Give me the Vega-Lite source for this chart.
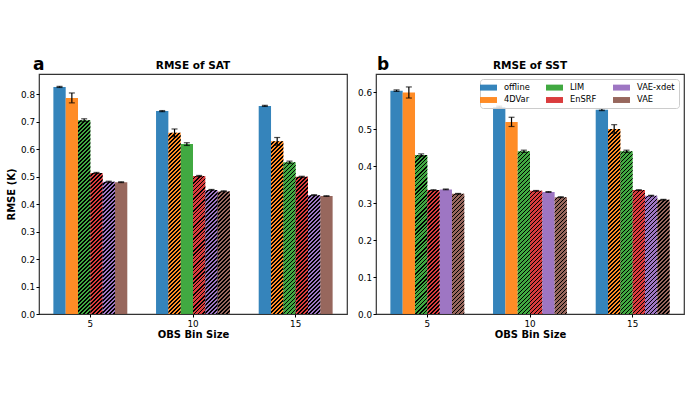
{
  "$schema": "https://vega.github.io/schema/vega-lite/v6.json",
  "padding": {"left": 5, "top": 55, "right": 5, "bottom": 5},
  "config": {
    "font": "DejaVu Sans",
    "view": {"stroke": "#333", "strokeWidth": 1.2},
    "axis": {"labelFontSize": 8.8, "labelColor": "#000", "tickColor": "#000", "tickSize": 3, "tickWidth": 1, "titleFontSize": 10, "titleFontWeight": "bold", "titleColor": "#000", "grid": false, "domain": false},
    "axisX": {"labelAngle": 0, "labelPadding": 2, "titlePadding": 2},
    "axisY": {"labelPadding": 1.5, "titlePadding": 4},
    "title": {"color": "#000", "fontWeight": "bold"}
  },
  "params": [
    {"name": "hs", "value": [
      {"offset":0,"color":"transparent"},{"offset":0.01,"color":"transparent"},{"offset":0.01,"color":"#000"},{"offset":0.0161,"color":"#000"},
      {"offset":0.0161,"color":"transparent"},{"offset":0.0261,"color":"transparent"},{"offset":0.0261,"color":"#000"},{"offset":0.0323,"color":"#000"},
      {"offset":0.0323,"color":"transparent"},{"offset":0.0423,"color":"transparent"},{"offset":0.0423,"color":"#000"},{"offset":0.0484,"color":"#000"},
      {"offset":0.0484,"color":"transparent"},{"offset":0.0584,"color":"transparent"},{"offset":0.0584,"color":"#000"},{"offset":0.0645,"color":"#000"},
      {"offset":0.0645,"color":"transparent"},{"offset":0.0745,"color":"transparent"},{"offset":0.0745,"color":"#000"},{"offset":0.0806,"color":"#000"},
      {"offset":0.0806,"color":"transparent"},{"offset":0.0906,"color":"transparent"},{"offset":0.0906,"color":"#000"},{"offset":0.0968,"color":"#000"},
      {"offset":0.0968,"color":"transparent"},{"offset":0.1068,"color":"transparent"},{"offset":0.1068,"color":"#000"},{"offset":0.1129,"color":"#000"},
      {"offset":0.1129,"color":"transparent"},{"offset":0.1229,"color":"transparent"},{"offset":0.1229,"color":"#000"},{"offset":0.129,"color":"#000"},
      {"offset":0.129,"color":"transparent"},{"offset":0.139,"color":"transparent"},{"offset":0.139,"color":"#000"},{"offset":0.1452,"color":"#000"},
      {"offset":0.1452,"color":"transparent"},{"offset":0.1552,"color":"transparent"},{"offset":0.1552,"color":"#000"},{"offset":0.1613,"color":"#000"},
      {"offset":0.1613,"color":"transparent"},{"offset":0.1713,"color":"transparent"},{"offset":0.1713,"color":"#000"},{"offset":0.1774,"color":"#000"},
      {"offset":0.1774,"color":"transparent"},{"offset":0.1874,"color":"transparent"},{"offset":0.1874,"color":"#000"},{"offset":0.1935,"color":"#000"},
      {"offset":0.1935,"color":"transparent"},{"offset":0.2035,"color":"transparent"},{"offset":0.2035,"color":"#000"},{"offset":0.2097,"color":"#000"},
      {"offset":0.2097,"color":"transparent"},{"offset":0.2197,"color":"transparent"},{"offset":0.2197,"color":"#000"},{"offset":0.2258,"color":"#000"},
      {"offset":0.2258,"color":"transparent"},{"offset":0.2358,"color":"transparent"},{"offset":0.2358,"color":"#000"},{"offset":0.2419,"color":"#000"},
      {"offset":0.2419,"color":"transparent"},{"offset":0.2519,"color":"transparent"},{"offset":0.2519,"color":"#000"},{"offset":0.2581,"color":"#000"},
      {"offset":0.2581,"color":"transparent"},{"offset":0.2681,"color":"transparent"},{"offset":0.2681,"color":"#000"},{"offset":0.2742,"color":"#000"},
      {"offset":0.2742,"color":"transparent"},{"offset":0.2842,"color":"transparent"},{"offset":0.2842,"color":"#000"},{"offset":0.2903,"color":"#000"},
      {"offset":0.2903,"color":"transparent"},{"offset":0.3003,"color":"transparent"},{"offset":0.3003,"color":"#000"},{"offset":0.3065,"color":"#000"},
      {"offset":0.3065,"color":"transparent"},{"offset":0.3165,"color":"transparent"},{"offset":0.3165,"color":"#000"},{"offset":0.3226,"color":"#000"},
      {"offset":0.3226,"color":"transparent"},{"offset":0.3326,"color":"transparent"},{"offset":0.3326,"color":"#000"},{"offset":0.3387,"color":"#000"},
      {"offset":0.3387,"color":"transparent"},{"offset":0.3487,"color":"transparent"},{"offset":0.3487,"color":"#000"},{"offset":0.3548,"color":"#000"},
      {"offset":0.3548,"color":"transparent"},{"offset":0.3648,"color":"transparent"},{"offset":0.3648,"color":"#000"},{"offset":0.371,"color":"#000"},
      {"offset":0.371,"color":"transparent"},{"offset":0.381,"color":"transparent"},{"offset":0.381,"color":"#000"},{"offset":0.3871,"color":"#000"},
      {"offset":0.3871,"color":"transparent"},{"offset":0.3971,"color":"transparent"},{"offset":0.3971,"color":"#000"},{"offset":0.4032,"color":"#000"},
      {"offset":0.4032,"color":"transparent"},{"offset":0.4132,"color":"transparent"},{"offset":0.4132,"color":"#000"},{"offset":0.4194,"color":"#000"},
      {"offset":0.4194,"color":"transparent"},{"offset":0.4294,"color":"transparent"},{"offset":0.4294,"color":"#000"},{"offset":0.4355,"color":"#000"},
      {"offset":0.4355,"color":"transparent"},{"offset":0.4455,"color":"transparent"},{"offset":0.4455,"color":"#000"},{"offset":0.4516,"color":"#000"},
      {"offset":0.4516,"color":"transparent"},{"offset":0.4616,"color":"transparent"},{"offset":0.4616,"color":"#000"},{"offset":0.4677,"color":"#000"},
      {"offset":0.4677,"color":"transparent"},{"offset":0.4777,"color":"transparent"},{"offset":0.4777,"color":"#000"},{"offset":0.4839,"color":"#000"},
      {"offset":0.4839,"color":"transparent"},{"offset":0.4939,"color":"transparent"},{"offset":0.4939,"color":"#000"},{"offset":0.5,"color":"#000"},
      {"offset":0.5,"color":"transparent"},{"offset":0.51,"color":"transparent"},{"offset":0.51,"color":"#000"},{"offset":0.5161,"color":"#000"},
      {"offset":0.5161,"color":"transparent"},{"offset":0.5261,"color":"transparent"},{"offset":0.5261,"color":"#000"},{"offset":0.5323,"color":"#000"},
      {"offset":0.5323,"color":"transparent"},{"offset":0.5423,"color":"transparent"},{"offset":0.5423,"color":"#000"},{"offset":0.5484,"color":"#000"},
      {"offset":0.5484,"color":"transparent"},{"offset":0.5584,"color":"transparent"},{"offset":0.5584,"color":"#000"},{"offset":0.5645,"color":"#000"},
      {"offset":0.5645,"color":"transparent"},{"offset":0.5745,"color":"transparent"},{"offset":0.5745,"color":"#000"},{"offset":0.5806,"color":"#000"},
      {"offset":0.5806,"color":"transparent"},{"offset":0.5906,"color":"transparent"},{"offset":0.5906,"color":"#000"},{"offset":0.5968,"color":"#000"},
      {"offset":0.5968,"color":"transparent"},{"offset":0.6068,"color":"transparent"},{"offset":0.6068,"color":"#000"},{"offset":0.6129,"color":"#000"},
      {"offset":0.6129,"color":"transparent"},{"offset":0.6229,"color":"transparent"},{"offset":0.6229,"color":"#000"},{"offset":0.629,"color":"#000"},
      {"offset":0.629,"color":"transparent"},{"offset":0.639,"color":"transparent"},{"offset":0.639,"color":"#000"},{"offset":0.6452,"color":"#000"},
      {"offset":0.6452,"color":"transparent"},{"offset":0.6552,"color":"transparent"},{"offset":0.6552,"color":"#000"},{"offset":0.6613,"color":"#000"},
      {"offset":0.6613,"color":"transparent"},{"offset":0.6713,"color":"transparent"},{"offset":0.6713,"color":"#000"},{"offset":0.6774,"color":"#000"},
      {"offset":0.6774,"color":"transparent"},{"offset":0.6874,"color":"transparent"},{"offset":0.6874,"color":"#000"},{"offset":0.6935,"color":"#000"},
      {"offset":0.6935,"color":"transparent"},{"offset":0.7035,"color":"transparent"},{"offset":0.7035,"color":"#000"},{"offset":0.7097,"color":"#000"},
      {"offset":0.7097,"color":"transparent"},{"offset":0.7197,"color":"transparent"},{"offset":0.7197,"color":"#000"},{"offset":0.7258,"color":"#000"},
      {"offset":0.7258,"color":"transparent"},{"offset":0.7358,"color":"transparent"},{"offset":0.7358,"color":"#000"},{"offset":0.7419,"color":"#000"},
      {"offset":0.7419,"color":"transparent"},{"offset":0.7519,"color":"transparent"},{"offset":0.7519,"color":"#000"},{"offset":0.7581,"color":"#000"},
      {"offset":0.7581,"color":"transparent"},{"offset":0.7681,"color":"transparent"},{"offset":0.7681,"color":"#000"},{"offset":0.7742,"color":"#000"},
      {"offset":0.7742,"color":"transparent"},{"offset":0.7842,"color":"transparent"},{"offset":0.7842,"color":"#000"},{"offset":0.7903,"color":"#000"},
      {"offset":0.7903,"color":"transparent"},{"offset":0.8003,"color":"transparent"},{"offset":0.8003,"color":"#000"},{"offset":0.8065,"color":"#000"},
      {"offset":0.8065,"color":"transparent"},{"offset":0.8165,"color":"transparent"},{"offset":0.8165,"color":"#000"},{"offset":0.8226,"color":"#000"},
      {"offset":0.8226,"color":"transparent"},{"offset":0.8326,"color":"transparent"},{"offset":0.8326,"color":"#000"},{"offset":0.8387,"color":"#000"},
      {"offset":0.8387,"color":"transparent"},{"offset":0.8487,"color":"transparent"},{"offset":0.8487,"color":"#000"},{"offset":0.8548,"color":"#000"},
      {"offset":0.8548,"color":"transparent"},{"offset":0.8648,"color":"transparent"},{"offset":0.8648,"color":"#000"},{"offset":0.871,"color":"#000"},
      {"offset":0.871,"color":"transparent"},{"offset":0.881,"color":"transparent"},{"offset":0.881,"color":"#000"},{"offset":0.8871,"color":"#000"},
      {"offset":0.8871,"color":"transparent"},{"offset":0.8971,"color":"transparent"},{"offset":0.8971,"color":"#000"},{"offset":0.9032,"color":"#000"},
      {"offset":0.9032,"color":"transparent"},{"offset":1,"color":"transparent"}
    ]}
  ],
  "datasets": {
    "sat": [
      {"bin": 5, "method": "offline", "rmse": 0.826, "lo": 0.824, "hi": 0.828, "hatch": false},
      {"bin": 5, "method": "4DVar", "rmse": 0.786, "lo": 0.768, "hi": 0.804, "hatch": false},
      {"bin": 5, "method": "LIM", "rmse": 0.705, "lo": 0.7, "hi": 0.71, "hatch": true},
      {"bin": 5, "method": "EnSRF", "rmse": 0.513, "lo": 0.511, "hi": 0.515, "hatch": true},
      {"bin": 5, "method": "VAE-xdet", "rmse": 0.481, "lo": 0.479, "hi": 0.483, "hatch": true},
      {"bin": 5, "method": "VAE", "rmse": 0.479, "lo": 0.478, "hi": 0.481, "hatch": false},
      {"bin": 10, "method": "offline", "rmse": 0.738, "lo": 0.736, "hi": 0.74, "hatch": false},
      {"bin": 10, "method": "4DVar", "rmse": 0.659, "lo": 0.645, "hi": 0.673, "hatch": true},
      {"bin": 10, "method": "LIM", "rmse": 0.618, "lo": 0.613, "hi": 0.623, "hatch": false},
      {"bin": 10, "method": "EnSRF", "rmse": 0.502, "lo": 0.5, "hi": 0.504, "hatch": true},
      {"bin": 10, "method": "VAE-xdet", "rmse": 0.451, "lo": 0.45, "hi": 0.453, "hatch": true},
      {"bin": 10, "method": "VAE", "rmse": 0.446, "lo": 0.445, "hi": 0.448, "hatch": true},
      {"bin": 15, "method": "offline", "rmse": 0.757, "lo": 0.755, "hi": 0.759, "hatch": false},
      {"bin": 15, "method": "4DVar", "rmse": 0.628, "lo": 0.614, "hi": 0.642, "hatch": true},
      {"bin": 15, "method": "LIM", "rmse": 0.552, "lo": 0.548, "hi": 0.556, "hatch": true},
      {"bin": 15, "method": "EnSRF", "rmse": 0.499, "lo": 0.497, "hi": 0.501, "hatch": true},
      {"bin": 15, "method": "VAE-xdet", "rmse": 0.432, "lo": 0.431, "hi": 0.434, "hatch": true},
      {"bin": 15, "method": "VAE", "rmse": 0.429, "lo": 0.428, "hi": 0.43, "hatch": false}
    ],
    "sst": [
      {"bin": 5, "method": "offline", "rmse": 0.604, "lo": 0.602, "hi": 0.606, "hatch": false},
      {"bin": 5, "method": "4DVar", "rmse": 0.599, "lo": 0.584, "hi": 0.614, "hatch": false},
      {"bin": 5, "method": "LIM", "rmse": 0.43, "lo": 0.427, "hi": 0.433, "hatch": true},
      {"bin": 5, "method": "EnSRF", "rmse": 0.335, "lo": 0.334, "hi": 0.336, "hatch": true},
      {"bin": 5, "method": "VAE-xdet", "rmse": 0.337, "lo": 0.336, "hi": 0.338, "hatch": false},
      {"bin": 5, "method": "VAE", "rmse": 0.325, "lo": 0.324, "hi": 0.326, "hatch": true},
      {"bin": 10, "method": "offline", "rmse": 0.56, "lo": 0.558, "hi": 0.562, "hatch": false},
      {"bin": 10, "method": "4DVar", "rmse": 0.519, "lo": 0.507, "hi": 0.532, "hatch": false},
      {"bin": 10, "method": "LIM", "rmse": 0.44, "lo": 0.437, "hi": 0.443, "hatch": true},
      {"bin": 10, "method": "EnSRF", "rmse": 0.333, "lo": 0.332, "hi": 0.334, "hatch": true},
      {"bin": 10, "method": "VAE-xdet", "rmse": 0.33, "lo": 0.329, "hi": 0.331, "hatch": false},
      {"bin": 10, "method": "VAE", "rmse": 0.316, "lo": 0.315, "hi": 0.317, "hatch": true},
      {"bin": 15, "method": "offline", "rmse": 0.552, "lo": 0.55, "hi": 0.555, "hatch": false},
      {"bin": 15, "method": "4DVar", "rmse": 0.5, "lo": 0.489, "hi": 0.512, "hatch": true},
      {"bin": 15, "method": "LIM", "rmse": 0.44, "lo": 0.437, "hi": 0.443, "hatch": true},
      {"bin": 15, "method": "EnSRF", "rmse": 0.335, "lo": 0.334, "hi": 0.336, "hatch": true},
      {"bin": 15, "method": "VAE-xdet", "rmse": 0.32, "lo": 0.319, "hi": 0.321, "hatch": true},
      {"bin": 15, "method": "VAE", "rmse": 0.309, "lo": 0.308, "hi": 0.31, "hatch": true}
    ]
  },
  "spacing": 8,
  "resolve": {"scale": {"color": "independent"}, "legend": {"color": "independent"}},
  "hconcat": [
    {
      "title": {"text": "a", "anchor": "start", "frame": "bounds", "fontSize": 17, "offset": -14, "dx": 27},
      "resolve": {"legend": {"color": "independent"}},
      "vconcat": [
        {
          "width": 308,
          "height": 240,
          "title": {"text": "RMSE of SAT", "fontSize": 10.5, "offset": 3},
          "data": {"name": "sat"},
          "encoding": {
            "x": {"field": "bin", "type": "ordinal", "title": "OBS Bin Size", "scale": {"paddingInner": 0.28, "paddingOuter": 0.14}},
            "xOffset": {"field": "method", "sort": ["offline", "4DVar", "LIM", "EnSRF", "VAE-xdet", "VAE"], "scale": {"paddingInner": 0, "paddingOuter": 0}}
          },
          "layer": [
            {
              "mark": {"type": "bar", "opacity": 0.9},
              "encoding": {
                "y": {"field": "rmse", "type": "quantitative", "title": "RMSE (K)", "scale": {"domain": [0, 0.873], "nice": false}, "axis": {"values": [0, 0.1, 0.2, 0.3, 0.4, 0.5, 0.6, 0.7, 0.8], "format": ".1f"}},
                "color": {"field": "method", "type": "nominal", "legend": null, "scale": {"domain": ["offline", "4DVar", "LIM", "EnSRF", "VAE-xdet", "VAE"], "range": ["#1f77b4", "#ff7f0e", "#2ca02c", "#d62728", "#9467bd", "#8c564b"]}}
              }
            },
            {
              "transform": [{"filter": "datum.hatch"}],
              "mark": {"type": "bar", "fill": {"expr": "{gradient: 'linear', x1: 0, y1: 0, x2: 12.32 * 248 / (151.8 + pow(datum.rmse * 274.9, 2)), y2: datum.rmse * 274.9 * 248 / (151.8 + pow(datum.rmse * 274.9, 2)), stops: hs}"}},
              "encoding": {"y": {"field": "rmse", "type": "quantitative", "title": "RMSE (K)", "axis": {"values": [0, 0.1, 0.2, 0.3, 0.4, 0.5, 0.6, 0.7, 0.8], "format": ".1f"}}}
            },
            {
              "mark": {"type": "rule", "color": "#000", "strokeWidth": 1.2},
              "encoding": {"y": {"field": "lo", "type": "quantitative", "title": "RMSE (K)", "axis": {"values": [0, 0.1, 0.2, 0.3, 0.4, 0.5, 0.6, 0.7, 0.8], "format": ".1f"}}, "y2": {"field": "hi"}}
            },
            {
              "mark": {"type": "tick", "color": "#000", "size": 6, "thickness": 1.2},
              "encoding": {"y": {"field": "lo", "type": "quantitative", "title": "RMSE (K)", "axis": {"values": [0, 0.1, 0.2, 0.3, 0.4, 0.5, 0.6, 0.7, 0.8], "format": ".1f"}}}
            },
            {
              "mark": {"type": "tick", "color": "#000", "size": 6, "thickness": 1.2},
              "encoding": {"y": {"field": "hi", "type": "quantitative", "title": "RMSE (K)", "axis": {"values": [0, 0.1, 0.2, 0.3, 0.4, 0.5, 0.6, 0.7, 0.8], "format": ".1f"}}}
            }
          ]
        }
      ]
    },
    {
      "title": {"text": "b", "anchor": "start", "frame": "bounds", "fontSize": 17, "offset": -14, "dx": 20},
      "resolve": {"legend": {"color": "independent"}},
      "vconcat": [
        {
          "width": 308,
          "height": 240,
          "title": {"text": "RMSE of SST", "fontSize": 10.5, "offset": 3},
          "data": {"name": "sst"},
          "encoding": {
            "x": {"field": "bin", "type": "ordinal", "title": "OBS Bin Size", "scale": {"paddingInner": 0.28, "paddingOuter": 0.14}},
            "xOffset": {"field": "method", "sort": ["offline", "4DVar", "LIM", "EnSRF", "VAE-xdet", "VAE"], "scale": {"paddingInner": 0, "paddingOuter": 0}}
          },
          "layer": [
            {
              "mark": {"type": "bar", "opacity": 0.9},
              "encoding": {
                "y": {"field": "rmse", "type": "quantitative", "title": null, "scale": {"domain": [0, 0.649], "nice": false}, "axis": {"values": [0, 0.1, 0.2, 0.3, 0.4, 0.5, 0.6], "format": ".1f"}},
                "color": {
                  "field": "method", "type": "nominal",
                  "scale": {"domain": ["offline", "4DVar", "LIM", "EnSRF", "VAE-xdet", "VAE"], "range": ["#1f77b4", "#ff7f0e", "#2ca02c", "#d62728", "#9467bd", "#8c564b"]},
                  "legend": {"title": null, "orient": "top-right", "offset": 5, "columns": 3, "symbolType": "M-2,-0.7H2V0.7H-2Z", "symbolSize": 72, "symbolStrokeWidth": 0, "symbolOpacity": 0.9, "labelOffset": 11, "labelFontSize": 8.3, "labelColor": "#000", "columnPadding": 16, "rowPadding": 3.5, "padding": 4, "strokeColor": "#ccc", "fillColor": "rgba(255,255,255,0.85)", "cornerRadius": 3}
                }
              }
            },
            {
              "transform": [{"filter": "datum.hatch"}],
              "mark": {"type": "bar", "fill": {"expr": "{gradient: 'linear', x1: 0, y1: 0, x2: 12.32 * 248 / (151.8 + pow(datum.rmse * 369.8, 2)), y2: datum.rmse * 369.8 * 248 / (151.8 + pow(datum.rmse * 369.8, 2)), stops: hs}"}},
              "encoding": {"y": {"field": "rmse", "type": "quantitative", "title": null, "axis": {"values": [0, 0.1, 0.2, 0.3, 0.4, 0.5, 0.6], "format": ".1f"}}}
            },
            {
              "mark": {"type": "rule", "color": "#000", "strokeWidth": 1.2},
              "encoding": {"y": {"field": "lo", "type": "quantitative", "title": null, "axis": {"values": [0, 0.1, 0.2, 0.3, 0.4, 0.5, 0.6], "format": ".1f"}}, "y2": {"field": "hi"}}
            },
            {
              "mark": {"type": "tick", "color": "#000", "size": 6, "thickness": 1.2},
              "encoding": {"y": {"field": "lo", "type": "quantitative", "title": null, "axis": {"values": [0, 0.1, 0.2, 0.3, 0.4, 0.5, 0.6], "format": ".1f"}}}
            },
            {
              "mark": {"type": "tick", "color": "#000", "size": 6, "thickness": 1.2},
              "encoding": {"y": {"field": "hi", "type": "quantitative", "title": null, "axis": {"values": [0, 0.1, 0.2, 0.3, 0.4, 0.5, 0.6], "format": ".1f"}}}
            }
          ]
        }
      ]
    }
  ]
}
